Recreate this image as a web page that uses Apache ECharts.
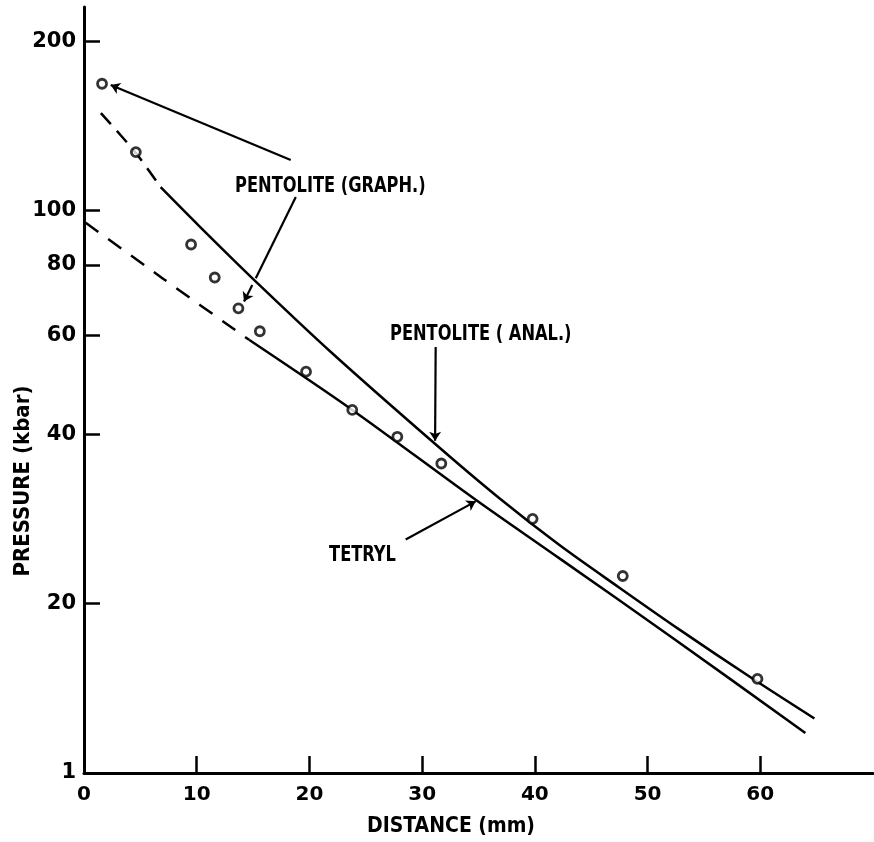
<!DOCTYPE html>
<html><head><meta charset="utf-8">
<script src="https://cdn.jsdelivr.net/npm/echarts@6/dist/echarts.min.js"></script>
<style>html,body{margin:0;padding:0;background:#fff}#c{width:874px;height:842px}</style>
</head><body><div id="c"></div>
<script>
// measured points (distance mm, pressure kbar)
const distance = [1.6, 4.6, 9.5, 11.6, 13.7, 15.6, 19.7, 23.8, 27.8, 31.7, 39.8, 47.8, 59.75];
const pressure = [168, 127, 87, 76, 67, 61, 51.7, 44.2, 39.6, 35.5, 28.3, 22.4, 14.7];
// Pentolite (analytical) curve
const pentAnalDashX = [1.5, 4.6, 6.8];
const pentAnalDashY = [149, 126.5, 110];
const pentAnalX = [6.8, 10.2, 14.9, 22.0, 31.06, 36.8, 42.15, 47.5, 52.8, 59.3, 64.8];
const pentAnalY = [110, 93.9, 75.9, 55.8, 38.6, 30.85, 25.45, 21.35, 18.0, 14.72, 12.5];
// Tetryl curve
const tetrylDashX = [0.15, 6.95, 14.64];
const tetrylDashY = [95.1, 75.8, 58.9];
const tetrylX = [14.64, 23.8, 34.75, 42.15, 52.2, 64.0];
const tetrylY = [58.9, 44.2, 30.6, 24.1, 17.4, 11.78];
// axes
const xLabels = [0, 10, 20, 30, 40, 50, 60];
const xTickVals = [10, 20, 30, 40, 50, 60];
const yLabels = [10, 20, 40, 60, 80, 100, 200];
const yLabelText = ['1', '20', '40', '60', '80', '100', '200'];
const yTickVals = [20, 40, 60, 80, 100, 200];
// annotations (data coords)
const annoTexts = [
  {text: 'PENTOLITE (GRAPH.)', at: [13.4, 110.1]},
  {text: 'PENTOLITE ( ANAL.)', at: [27.15, 60.1]},
  {text: 'TETRYL', at: [21.74, 24.4]}
];
const leaders = [
  {from: [18.34, 122.9], to: [2.37, 167.1], arrow: true},
  {from: [18.79, 105.7], to: [15.24, 75.8], arrow: false},
  {from: [14.93, 73.7], to: [14.2, 68.9], arrow: true},
  {from: [31.2, 57.2], to: [31.15, 38.95], arrow: true},
  {from: [28.54, 26.0], to: [34.75, 30.4], arrow: true}
];

const zip = (a, b) => a.map((v, i) => [v, b[i]]);
const FONT = "'DejaVu Sans Condensed', 'DejaVu Sans', sans-serif";
const chart = echarts.init(document.getElementById('c'), null, {renderer: 'canvas'});
const lineW = 2.5;
chart.setOption({
  backgroundColor: '#fff',
  animation: false,
  grid: {left: 84, top: 7, width: 789, height: 766, containLabel: false},
  xAxis: {
    type: 'value', min: 0, max: 70,
    axisLine: {show: true, lineStyle: {color: '#000', width: 3}},
    axisTick: {show: true, inside: true, length: 17, lineStyle: {color: '#000', width: 2.5}, customValues: xTickVals},
    axisLabel: {show: true, customValues: xLabels, margin: 12, color: '#000', fontSize: 20, fontWeight: 'bold', fontFamily: 'DejaVu Sans'},
    splitLine: {show: false}
  },
  yAxis: {
    type: 'log', logBase: 10, min: 10, max: 230,
    axisLine: {show: true, lineStyle: {color: '#000', width: 3}},
    axisTick: {show: true, inside: true, length: 16, lineStyle: {color: '#000', width: 2.5}, customValues: yTickVals},
    axisLabel: {show: true, customValues: yLabels, margin: 8, color: '#000', fontSize: 21, fontWeight: 'bold', fontFamily: 'DejaVu Sans',
      formatter: v => { const i = yLabels.findIndex(t => Math.abs(t - v) < 1e-6 * t); return i >= 0 ? yLabelText[i] : ''; }},
    splitLine: {show: false}, minorTick: {show: false}
  },
  series: [
    {type: 'line', data: zip(pentAnalDashX, pentAnalDashY), showSymbol: false, smooth: 0.3, lineStyle: {color: '#000', width: lineW, type: [15, 9]}},
    {type: 'line', data: zip(pentAnalX, pentAnalY), showSymbol: false, smooth: 0.3, lineStyle: {color: '#000', width: lineW}},
    {type: 'line', data: zip(tetrylDashX, tetrylDashY), showSymbol: false, smooth: 0.3, lineStyle: {color: '#000', width: lineW, type: [16, 12]}},
    {type: 'line', data: zip(tetrylX, tetrylY), showSymbol: false, smooth: 0.3, lineStyle: {color: '#000', width: lineW}},
    {type: 'scatter', data: zip(distance, pressure), symbol: 'circle', symbolSize: 9, z: 5,
      itemStyle: {color: '#fff', borderColor: '#000', borderWidth: 2.8},
      markLine: {silent: true, animation: false, label: {show: false}, symbolSize: 9,
        lineStyle: {color: '#000', width: 2.2, type: 'solid'},
        data: leaders.map(l => [{coord: l.from, symbol: 'none'}, {coord: l.to, symbol: l.arrow ? 'arrow' : 'none'}])
      }
    }
  ]
});

const g = annoTexts.map(a => {
  const p = chart.convertToPixel({gridIndex: 0}, a.at);
  return {type: 'text', x: p[0], y: p[1], scaleX: 0.86, style: {text: a.text, fill: '#000', font: "bold 21px " + FONT, align: 'left', verticalAlign: 'middle'}};
});
g.push({type: 'text', x: 451, y: 827, style: {text: 'DISTANCE (mm)', fill: '#000', font: 'bold 21px ' + FONT, align: 'center', verticalAlign: 'middle'}});
g.push({type: 'text', x: 23, y: 481, rotation: Math.PI / 2, style: {text: 'PRESSURE (kbar)', fill: '#000', font: 'bold 22px ' + FONT, align: 'center', verticalAlign: 'middle'}});
chart.setOption({graphic: g});
</script></body></html>
